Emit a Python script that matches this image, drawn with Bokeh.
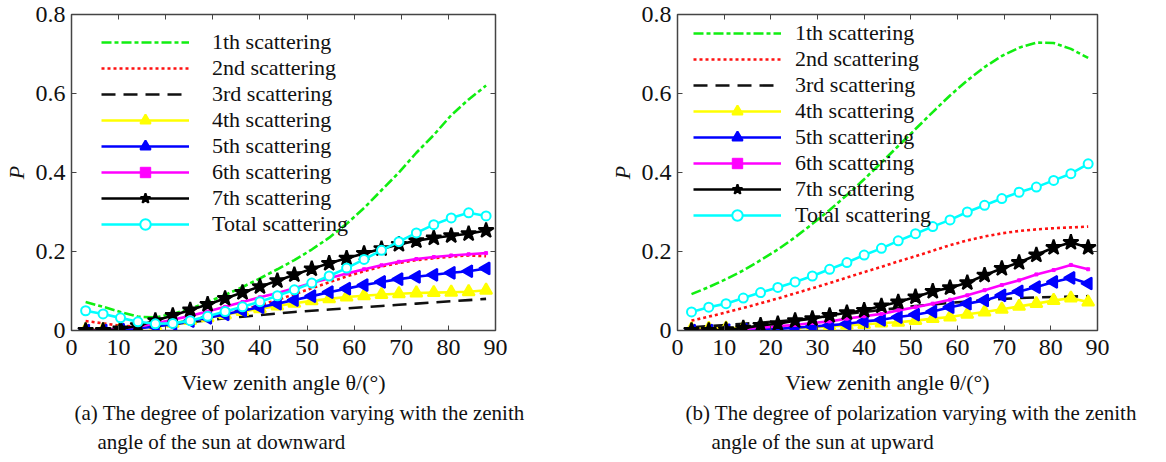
from bokeh.plotting import figure
from bokeh.layouts import row
from bokeh.models import (LinearAxis, Range1d, FixedTicker, Legend, LegendItem,
                          Title, CustomJSTickFormatter)
from bokeh.embed import file_html
from bokeh.resources import INLINE
import math

# ---------------- data ----------------
theta = [3.0, 6.7, 10.4, 14.1, 17.8, 21.5, 25.2, 28.9, 32.6, 36.3, 40.0, 43.7,
         47.3, 51.0, 54.7, 58.4, 62.1, 65.8, 69.5, 73.2, 76.9, 80.6, 84.3, 88.0]

series_names = ["1th scattering", "2nd scattering", "3rd scattering", "4th scattering",
                "5th scattering", "6th scattering", "7th scattering", "Total scattering"]

# (a) sun at downward
down_1th = [0.072, 0.060, 0.047, 0.035, 0.033, 0.042, 0.055, 0.072, 0.090, 0.110, 0.132, 0.155,
            0.178, 0.205, 0.235, 0.270, 0.310, 0.355, 0.400, 0.450, 0.495, 0.545, 0.585, 0.620]
down_2nd = [0.024, 0.018, 0.012, 0.010, 0.012, 0.018, 0.025, 0.033, 0.042, 0.052, 0.064, 0.077,
            0.092, 0.107, 0.122, 0.137, 0.150, 0.162, 0.171, 0.178, 0.183, 0.187, 0.190, 0.188]
down_3rd = [0.000, 0.002, 0.005, 0.008, 0.012, 0.016, 0.021, 0.026, 0.031, 0.035, 0.039, 0.043,
            0.047, 0.050, 0.053, 0.056, 0.059, 0.062, 0.065, 0.068, 0.071, 0.074, 0.077, 0.080]
down_4th = [0.002, 0.002, 0.004, 0.007, 0.012, 0.018, 0.025, 0.032, 0.040, 0.048, 0.055, 0.062,
            0.069, 0.075, 0.080, 0.085, 0.088, 0.091, 0.093, 0.095, 0.096, 0.097, 0.098, 0.102]
down_5th = [0.000, 0.000, 0.002, 0.005, 0.010, 0.016, 0.024, 0.032, 0.041, 0.050, 0.059, 0.068,
            0.077, 0.087, 0.097, 0.106, 0.115, 0.123, 0.130, 0.136, 0.141, 0.146, 0.150, 0.157]
down_6th = [0.000, 0.002, 0.005, 0.010, 0.018, 0.027, 0.037, 0.048, 0.060, 0.072, 0.084, 0.095,
            0.107, 0.120, 0.132, 0.144, 0.155, 0.165, 0.174, 0.181, 0.186, 0.190, 0.193, 0.196]
down_7th = [0.000, 0.000, 0.004, 0.012, 0.025, 0.038, 0.052, 0.066, 0.081, 0.096, 0.111, 0.126,
            0.141, 0.156, 0.170, 0.183, 0.195, 0.207, 0.218, 0.227, 0.234, 0.240, 0.245, 0.253]
down_total = [0.050, 0.042, 0.032, 0.022, 0.017, 0.018, 0.025, 0.036, 0.048, 0.060, 0.073, 0.088,
              0.103, 0.120, 0.138, 0.158, 0.180, 0.203, 0.225, 0.247, 0.268, 0.285, 0.298, 0.290]

# (b) sun at upward
up_1th = [0.092, 0.110, 0.130, 0.152, 0.178, 0.205, 0.236, 0.270, 0.305, 0.343, 0.383, 0.425,
          0.467, 0.510, 0.553, 0.595, 0.633, 0.667, 0.695, 0.716, 0.729, 0.728, 0.713, 0.690]
up_2nd = [0.025, 0.035, 0.046, 0.057, 0.069, 0.081, 0.094, 0.107, 0.120, 0.134, 0.148, 0.161,
          0.175, 0.188, 0.202, 0.216, 0.228, 0.238, 0.246, 0.252, 0.256, 0.259, 0.261, 0.263]
up_3rd = [0.008, 0.011, 0.014, 0.017, 0.020, 0.023, 0.027, 0.031, 0.036, 0.042, 0.047, 0.052,
          0.057, 0.062, 0.066, 0.070, 0.073, 0.077, 0.080, 0.082, 0.084, 0.085, 0.086, 0.087]
up_4th = [0.004, 0.005, 0.006, 0.006, 0.006, 0.006, 0.007, 0.008, 0.010, 0.013, 0.015, 0.019,
          0.021, 0.025, 0.030, 0.034, 0.041, 0.047, 0.054, 0.061, 0.068, 0.076, 0.082, 0.072]
up_5th = [0.000, 0.000, 0.001, 0.002, 0.003, 0.004, 0.007, 0.010, 0.013, 0.017, 0.023, 0.027,
          0.034, 0.040, 0.048, 0.059, 0.068, 0.076, 0.089, 0.099, 0.110, 0.123, 0.133, 0.119]
up_6th = [0.000, 0.000, 0.002, 0.004, 0.007, 0.011, 0.014, 0.019, 0.023, 0.030, 0.036, 0.042,
          0.051, 0.059, 0.068, 0.078, 0.089, 0.102, 0.115, 0.127, 0.142, 0.153, 0.166, 0.155]
up_7th = [0.000, 0.000, 0.002, 0.006, 0.013, 0.017, 0.025, 0.030, 0.038, 0.045, 0.051, 0.062,
          0.072, 0.085, 0.099, 0.108, 0.121, 0.140, 0.157, 0.172, 0.191, 0.210, 0.223, 0.210]
up_total = [0.047, 0.059, 0.068, 0.082, 0.096, 0.109, 0.123, 0.138, 0.155, 0.172, 0.191, 0.208,
            0.227, 0.245, 0.263, 0.280, 0.300, 0.317, 0.334, 0.350, 0.363, 0.380, 0.397, 0.422]

x_ticks = [0, 10, 20, 30, 40, 50, 60, 70, 80, 90]
y_ticks = [0, 0.2, 0.4, 0.6, 0.8]
y_tick_labels = ["0", "0.2", "0.4", "0.6", "0.8"]

x_label = "View zenith angle \u03b8/(\u00b0)"
y_label = "P"
caption_a = ["(a) The degree of polarization varying with the zenith",
             "angle of the sun at downward"]
caption_b = ["(b) The degree of polarization varying with the zenith",
             "angle of the sun at upward"]

# ---------------- styles ----------------
FONT = "Liberation Serif"
styles = [
    dict(color="#11ee11", dash="10 3 4 3", marker=None),
    dict(color="#ff1111", dash="3 3", marker=None),
    dict(color="#111111", dash="14 8", marker=None),
    dict(color="#ffff00", dash="solid", marker="triangle", size=12, angle=0.0, fill="#ffff00", lw=2),
    dict(color="#0000ff", dash="solid", marker="triangle", size=12, angle=math.pi / 2, fill="#0000ff", lw=2),
    dict(color="#ff00ff", dash="solid", marker="square", size=3, angle=0.0, fill="#ff00ff", lw=1),
    dict(color="#000000", dash="solid", marker="star", size=16, angle=0.0, fill="#000000", lw=2),
    dict(color="#00ffff", dash="solid", marker="circle", size=9, angle=0.0, fill="#ffffff", lw=2),
]


def make_panel(data, captions, frame_w, border_left, border_right, legend_loc, cap_offsets,
               label_standoff):
    p = figure(frame_width=frame_w, frame_height=316, output_backend="svg", toolbar_location=None,
               x_range=Range1d(0, 90), y_range=Range1d(0, 0.8),
               min_border_left=border_left, min_border_right=border_right,
               min_border_top=14, min_border_bottom=120)
    p.grid.visible = False
    p.outline_line_color = "#444444"
    p.outline_line_width = 1.5
    p.background_fill_color = "white"
    p.border_fill_color = "white"

    items = []
    for name, ys, st in zip(series_names, data, styles):
        rs = [p.line(theta, ys, line_color=st["color"], line_width=2.6, line_dash=st["dash"])]
        if st["marker"]:
            rs.append(p.scatter(theta, ys, marker=st["marker"], size=st["size"], angle=st["angle"],
                                line_color=st["color"], fill_color=st["fill"], line_width=st["lw"]))
        items.append(LegendItem(label=name, renderers=rs))

    legend = Legend(items=items, location=legend_loc, border_line_color=None,
                    background_fill_alpha=0, padding=0, margin=0, spacing=0,
                    glyph_width=88, glyph_height=26, label_height=26, label_standoff=label_standoff,
                    label_text_font=FONT, label_text_font_size="22px",
                    label_text_color="#111111")
    p.add_layout(legend)

    xa = p.xaxis[0]
    xa.ticker = FixedTicker(ticks=x_ticks)
    ya = p.yaxis[0]
    ya.ticker = FixedTicker(ticks=y_ticks)
    ya.major_label_overrides = {t: l for t, l in zip(y_ticks, y_tick_labels)}
    for ax in (xa, ya):
        ax.major_tick_in = 5
        ax.major_tick_out = 0
        ax.minor_tick_line_color = None
        ax.axis_line_color = "#444444"
        ax.major_tick_line_color = "#444444"
        ax.major_label_text_font = FONT
        ax.major_label_text_font_size = "24px"
        ax.major_label_text_color = "#111111"
        ax.axis_label_text_font = FONT
        ax.axis_label_text_color = "#111111"
    xa.axis_label = x_label
    xa.axis_label_text_font_size = "22px"
    xa.axis_label_text_font_style = "normal"
    xa.major_label_standoff = 9
    xa.axis_label_standoff = 12
    ya.axis_label = y_label
    ya.axis_label_text_font_size = "22px"
    ya.axis_label_text_font_style = "italic"
    ya.major_label_standoff = 6
    ya.axis_label_standoff = 4

    blank = CustomJSTickFormatter(code="return ''")
    top = LinearAxis(ticker=FixedTicker(ticks=x_ticks), formatter=blank)
    right = LinearAxis(ticker=FixedTicker(ticks=y_ticks), formatter=blank)
    for ax in (top, right):
        ax.major_tick_in = 5
        ax.major_tick_out = 0
        ax.minor_tick_line_color = None
        ax.axis_line_color = "#444444"
        ax.major_tick_line_color = "#444444"
        ax.major_label_text_font_size = "0px"
        ax.major_label_standoff = 0
    p.add_layout(top, "above")
    p.add_layout(right, "right")

    for txt, off, so in zip(captions, cap_offsets, (3, 2)):
        t = Title(text=txt, align="left", offset=off, standoff=so,
                  text_font=FONT, text_font_size="21px", text_font_style="normal",
                  text_color="#111111")
        p.add_layout(t, "below")
    return p


left = make_panel([down_1th, down_2nd, down_3rd, down_4th, down_5th, down_6th, down_7th, down_total],
                  caption_a, 424, 66, 100, (30, 93), (3, 26), 23)
right_p = make_panel([up_1th, up_2nd, up_3rd, up_4th, up_5th, up_6th, up_7th, up_total],
                     caption_b, 420, 82, 58, (16, 102), (8, 34), 14)

layout = row(left, right_p)
open("out.html", "w").write(file_html(layout, INLINE))
